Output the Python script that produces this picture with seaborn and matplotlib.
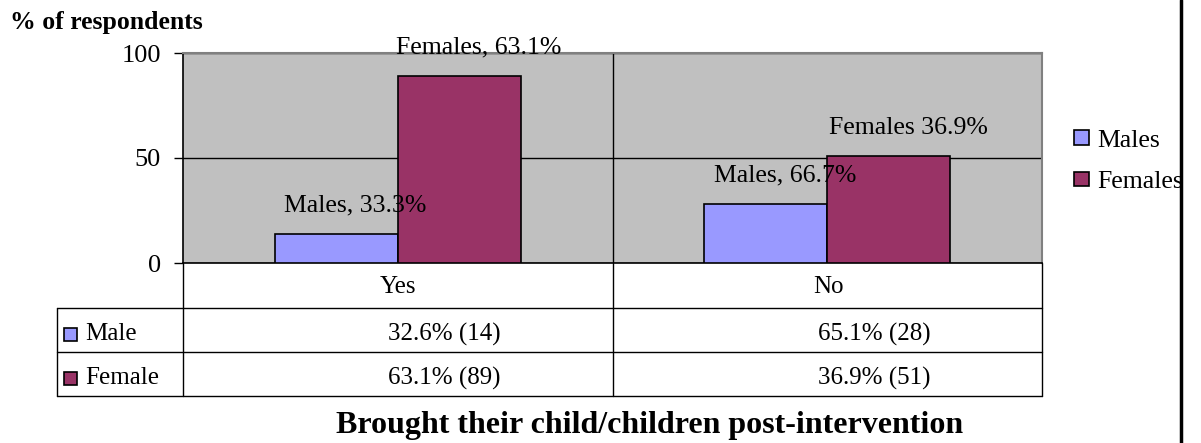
"""
Bar chart with an Excel-style data table underneath.
"""
import pandas as pd
import seaborn as sns
import matplotlib.pyplot as plt
from matplotlib.patches import Patch, Rectangle
from matplotlib.lines import Line2D

# data
categories = ['Yes', 'No']
series = ['Males', 'Females']
males = [14, 28]
females = [89, 51]
male_pct = [32.6, 65.1]
female_pct = [63.1, 36.9]
male_labels = ['Males, 33.3%', 'Males, 66.7%']
female_labels = ['Females, 63.1%', 'Females 36.9%']
table_rows = ['Male', 'Female']
colors = ['#9999FF', '#993366']

W, H = 1201, 443


def px_box(x0, y0, x1, y1):
    # pixel box (top-left origin) -> figure fraction
    return [x0 / W, 1 - y1 / H, (x1 - x0) / W, (y1 - y0) / H]


def main():
    sns.set_style('white')
    plt.rcParams['font.family'] = ['Liberation Serif', 'DejaVu Serif']
    plt.rcParams['text.color'] = 'black'
    plt.rcParams['ytick.labelcolor'] = 'black'

    df = pd.DataFrame({
        'answer': categories * 2,
        'n': males + females,
        'sex': [series[0]] * 2 + [series[1]] * 2,
    })

    fig = plt.figure(figsize=(W / 100, H / 100), dpi=100)
    ax = fig.add_axes(px_box(183, 53, 1042, 263))
    ax.set_facecolor('#C0C0C0')
    sns.barplot(data=df, x='answer', y='n', hue='sex', hue_order=series,
                palette=colors, saturation=1, width=0.572, edgecolor='black',
                linewidth=1.2, ax=ax, zorder=3)
    if ax.get_legend():
        ax.get_legend().remove()

    ax.set_xlim(-0.5, 1.5)
    ax.set_ylim(0, 100)
    ax.set_yticks([0, 50, 100])
    ax.set_xticks([])
    ax.set_xlabel('')
    ax.set_ylabel('')
    ax.grid(axis='y', color='black', lw=1, zorder=1)
    ax.axvline(0.5, color='black', lw=1, zorder=1)
    ax.tick_params(axis='y', direction='out', length=6.5, width=1, color='black',
                   pad=9.5, labelsize=19, labelcolor='black', left=True)
    for side in ['left', 'bottom']:
        ax.spines[side].set_color('black')
        ax.spines[side].set_linewidth(1.2)
    for side in ['top', 'right']:
        ax.spines[side].set_color('#808080')
        ax.spines[side].set_linewidth(1.5)

    # bar labels (manually offset, as in the original)
    dx, dy = 0.045, 13.5
    for cont, labels in zip(ax.containers, [male_labels, female_labels]):
        for bar, lab in zip(cont, labels):
            xc = bar.get_x() + bar.get_width() / 2
            ax.text(xc + dx, bar.get_height() + dy, lab, ha='center', va='center',
                    fontsize=18.5, color='black', zorder=5)

    fig.text(10 / W, 1 - 22 / H, '% of respondents', fontsize=18.5,
             fontweight='bold', ha='left', va='center', color='black')

    # legend
    handles = [Patch(facecolor=c, edgecolor='black', lw=1.2) for c in colors]
    leg = fig.legend(handles, series, loc='upper left',
                     bbox_to_anchor=(1061 / W, 1 - 117 / H), frameon=False,
                     fontsize=18.5, borderpad=0, handlelength=0.58,
                     handleheight=0.52, handletextpad=0.35, labelspacing=0.75)
    for t in leg.get_texts():
        t.set_color('black')

    # data table
    tax = fig.add_axes(px_box(57, 263, 1042, 396))
    tax.set_xlim(57, 1042)
    tax.set_ylim(396, 263)
    tax.axis('off')
    lk = dict(color='black', lw=1, clip_on=False)
    for y in [308, 352, 396]:
        tax.plot([57, 1042], [y, y], **lk)
    for x in [183, 613, 1042]:
        tax.plot([x, x], [263, 396], **lk)
    tax.plot([57, 57], [308, 396], **lk)

    col_mid = [398, 828]
    for xm, cat in zip(col_mid, categories):
        tax.text(xm, 287, cat, ha='center', va='center', fontsize=18, color='black')

    row_y = [334, 378]
    for yc, name, c, pcts, ns in zip(row_y, table_rows, colors,
                                    [male_pct, female_pct], [males, females]):
        tax.add_patch(Rectangle((64, yc - 6.5), 13, 13, facecolor=c,
                                edgecolor='black', lw=1.2, clip_on=False))
        tax.text(85, yc, name, ha='left', va='center', fontsize=18, color='black')
        for xm, p, n in zip(col_mid, pcts, ns):
            tax.text(xm + 46, yc, f'{p:.1f}% ({n})', ha='center', va='center',
                     fontsize=18, color='black')

    fig.text(650 / W, 1 - 425 / H, 'Brought their child/children post-intervention',
             fontsize=23, fontweight='bold', ha='center', va='center', color='black')

    fig.add_artist(Line2D([1181 / W, 1181 / W], [0, 1], color='black', lw=2.5))

    fig.savefig('out.png', dpi=100)


if __name__ == '__main__':
    main()
